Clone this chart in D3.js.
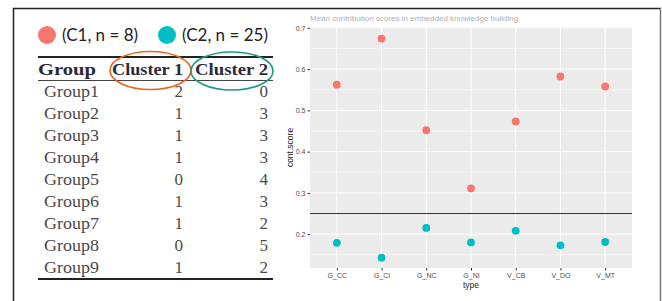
<!DOCTYPE html>
<html>
<head>
<meta charset="utf-8">
<script src="https://cdn.jsdelivr.net/npm/d3@7"></script>
<style>
  body { margin: 0; background: #fff; }
  svg { display: block; }
</style>
</head>
<body>
<div id="chart"></div>
<script>
// Data
var types = ['G_CC', 'G_CI', 'G_NC', 'G_NI', 'V_CB', 'V_DO', 'V_MT'];
var c1Scores = [0.562, 0.674, 0.452, 0.311, 0.473, 0.582, 0.558];
var c2Scores = [0.179, 0.143, 0.215, 0.180, 0.208, 0.173, 0.181];
var cutoff = 0.25;
var yTicks = [0.2, 0.3, 0.4, 0.5, 0.6, 0.7];
var yMinor = [0.15, 0.25, 0.35, 0.45, 0.55, 0.65];

var legendLabels = ['(C1, n = 8)', '(C2, n = 25)'];
var tableHeader = ['Group', 'Cluster 1', 'Cluster 2'];
var groups = ['Group1', 'Group2', 'Group3', 'Group4', 'Group5', 'Group6', 'Group7', 'Group8', 'Group9'];
var cluster1 = [2, 1, 1, 1, 0, 1, 1, 0, 1];
var cluster2 = [0, 3, 3, 3, 4, 3, 2, 5, 2];

var red = '#F8766D', teal = '#00BFC4';

var svg = d3.select('#chart').append('svg')
    .attr('width', 662)
    .attr('height', 301);

// Outer frame
svg.append('path')
  .attr('d', 'M13.5,301 L13.5,8.5 L661,8.5')
  .attr('fill', 'none')
  .attr('stroke', '#222')
  .attr('stroke-width', 1.5);
svg.append('line')
  .attr('x1', 660.5).attr('x2', 660.5)
  .attr('y1', 8).attr('y2', 301)
  .attr('stroke', '#777')
  .attr('stroke-width', 1.5);

/////////////////////////
// Left: legend and table
var legend = svg.append('g');
var legendX = [47, 167];
legend.selectAll('circle')
  .data(legendLabels)
  .enter()
    .append('circle')
      .attr('cx', function(d, i) { return legendX[i]; })
      .attr('cy', 35)
      .attr('r', 9)
      .attr('fill', function(d, i) { return i == 0 ? red : teal; });
legend.selectAll('text')
  .data(legendLabels)
  .enter()
    .append('text')
      .text(function(d) { return d; })
      .attr('x', function(d, i) { return legendX[i] + 15; })
      .attr('y', 41)
      .attr('font-family', 'Lato, sans-serif')
      .attr('font-size', 17)
      .attr('fill', '#222');

var table = svg.append('g')
    .attr('font-family', '"Liberation Serif", serif');

var tableLeft = 38, tableRight = 273;
var col1Right = 183, col2Right = 268;
var rowY = function(i) { return 91.5 + i * 21.9; };

// rules
table.append('line')
  .attr('x1', tableLeft).attr('x2', tableRight)
  .attr('y1', 57).attr('y2', 57)
  .attr('stroke', '#222').attr('stroke-width', 2);
table.append('line')
  .attr('x1', tableLeft).attr('x2', tableRight)
  .attr('y1', 80.5).attr('y2', 80.5)
  .attr('stroke', '#444').attr('stroke-width', 1);
table.append('line')
  .attr('x1', tableLeft).attr('x2', tableRight)
  .attr('y1', 279).attr('y2', 279)
  .attr('stroke', '#222').attr('stroke-width', 2);

// header (the source font is wider than anything installed, so stretch a little)
var headerX = [tableLeft, col1Right, col2Right];
var headerW = [58, 71, 73];
table.selectAll('text.head')
  .data(tableHeader)
  .enter()
    .append('text')
      .attr('class', 'head')
      .text(function(d) { return d; })
      .attr('x', function(d, i) { return headerX[i]; })
      .attr('y', 75)
      .attr('text-anchor', function(d, i) { return i == 0 ? 'start' : 'end'; })
      .attr('textLength', function(d, i) { return headerW[i]; })
      .attr('lengthAdjust', 'spacingAndGlyphs')
      .attr('font-weight', 'bold')
      .attr('font-size', 17)
      .attr('fill', '#2a2a3a');

// body rows
var rows = table.selectAll('g.row')
    .data(groups)
    .enter()
      .append('g')
        .attr('class', 'row')
        .attr('transform', function(d, i) { return 'translate(0,' + rowY(i) + ')'; });
rows.append('text')
  .text(function(d) { return d; })
  .attr('x', 44)
  .attr('dy', '0.35em')
  .attr('textLength', 55)
  .attr('lengthAdjust', 'spacingAndGlyphs')
  .attr('font-size', 17)
  .attr('fill', '#4a4a4a');
rows.append('text')
  .text(function(d, i) { return cluster1[i]; })
  .attr('x', col1Right)
  .attr('dy', '0.35em')
  .attr('text-anchor', 'end')
  .attr('font-size', 17)
  .attr('fill', '#4a4a4a');
rows.append('text')
  .text(function(d, i) { return cluster2[i]; })
  .attr('x', col2Right)
  .attr('dy', '0.35em')
  .attr('text-anchor', 'end')
  .attr('font-size', 17)
  .attr('fill', '#4a4a4a');

// hand-drawn highlight ellipses round the cluster headers
table.append('ellipse')
  .attr('cx', 150.5).attr('cy', 70.5).attr('rx', 40.5).attr('ry', 19)
  .attr('fill', 'none').attr('stroke', '#E8641E').attr('stroke-width', 1.6);
table.append('ellipse')
  .attr('cx', 232).attr('cy', 71).attr('rx', 41).attr('ry', 19)
  .attr('fill', 'none').attr('stroke', '#1A9A7E').attr('stroke-width', 1.6);

/////////////////////////
// Right: ggplot-style dot plot
var panel = {left: 310, right: 632, top: 27, bottom: 268};

var x = d3.scalePoint()
    .domain(types)
    .range([panel.left, panel.right])
    .padding(0.6);
var y = d3.scaleLinear()
    .domain([0.118, 0.702])
    .range([panel.bottom, panel.top]);

var plot = svg.append('g');

plot.append('rect')
  .attr('x', panel.left).attr('y', panel.top)
  .attr('width', panel.right - panel.left)
  .attr('height', panel.bottom - panel.top)
  .attr('fill', '#EBEBEB');

plot.selectAll('line.minor')
  .data(yMinor)
  .enter()
    .append('line')
      .attr('x1', panel.left).attr('x2', panel.right)
      .attr('y1', function(d) { return y(d); })
      .attr('y2', function(d) { return y(d); })
      .attr('stroke', '#fff').attr('stroke-width', 0.5);
plot.selectAll('line.majorY')
  .data(yTicks)
  .enter()
    .append('line')
      .attr('x1', panel.left).attr('x2', panel.right)
      .attr('y1', function(d) { return y(d); })
      .attr('y2', function(d) { return y(d); })
      .attr('stroke', '#fff').attr('stroke-width', 1);
plot.selectAll('line.majorX')
  .data(types)
  .enter()
    .append('line')
      .attr('x1', function(d) { return x(d); })
      .attr('x2', function(d) { return x(d); })
      .attr('y1', panel.top).attr('y2', panel.bottom)
      .attr('stroke', '#fff').attr('stroke-width', 1);

// cutoff line
plot.append('line')
  .attr('x1', panel.left).attr('x2', panel.right)
  .attr('y1', y(cutoff)).attr('y2', y(cutoff))
  .attr('stroke', '#333').attr('stroke-width', 1);

// points
plot.selectAll('circle.c1')
  .data(c1Scores)
  .enter()
    .append('circle')
      .attr('cx', function(d, i) { return x(types[i]); })
      .attr('cy', function(d) { return y(d); })
      .attr('r', 3.9)
      .attr('fill', red);
plot.selectAll('circle.c2')
  .data(c2Scores)
  .enter()
    .append('circle')
      .attr('cx', function(d, i) { return x(types[i]); })
      .attr('cy', function(d) { return y(d); })
      .attr('r', 3.9)
      .attr('fill', teal);

// axes
var yAxis = d3.axisLeft(y)
    .tickValues(yTicks)
    .tickFormat(d3.format('.1f'))
    .tickSize(2.5)
    .tickPadding(2);
var gy = plot.append('g')
    .attr('transform', 'translate(' + panel.left + ',0)')
    .call(yAxis);
var xAxis = d3.axisBottom(x)
    .tickSize(2.5)
    .tickPadding(3);
var gx = plot.append('g')
    .attr('transform', 'translate(0,' + panel.bottom + ')')
    .call(xAxis);
[gx, gy].forEach(function(g) {
  g.select('.domain').remove();
  g.selectAll('.tick line').attr('stroke', '#333');
  g.selectAll('.tick text')
    .attr('fill', '#4D4D4D')
    .attr('font-family', '"Liberation Sans", Arial, sans-serif')
    .attr('font-size', 7);
});

// axis titles
plot.append('text')
  .text('type')
  .attr('x', (panel.left + panel.right) / 2)
  .attr('y', 288)
  .attr('text-anchor', 'middle')
  .attr('font-family', '"Liberation Sans", Arial, sans-serif')
  .attr('font-size', 8.5)
  .attr('fill', '#222');
plot.append('text')
  .text('cont.score')
  .attr('transform', 'translate(293,' + ((panel.top + panel.bottom) / 2) + ') rotate(-90)')
  .attr('text-anchor', 'middle')
  .attr('font-family', '"Liberation Sans", Arial, sans-serif')
  .attr('font-size', 8.5)
  .attr('fill', '#222');

// faint, cut-off plot title
plot.append('text')
  .text('Mean contribution scores in embedded knowledge building')
  .attr('x', panel.left)
  .attr('y', 21)
  .attr('font-family', '"Liberation Sans", Arial, sans-serif')
  .attr('font-size', 8)
  .attr('fill', '#b0b0b0');
</script>
</body>
</html>
